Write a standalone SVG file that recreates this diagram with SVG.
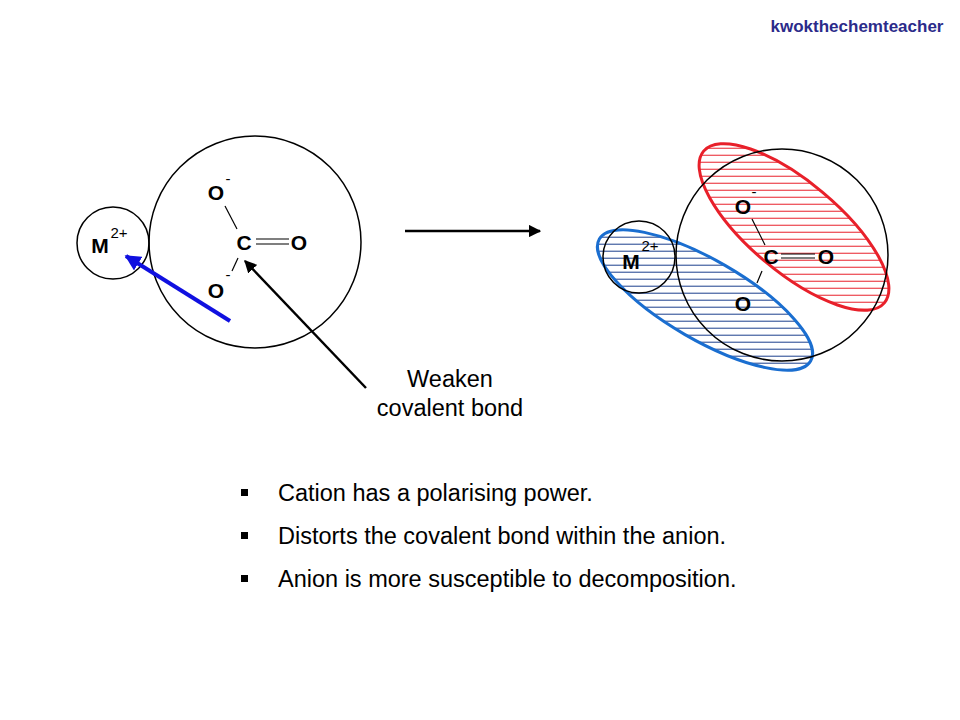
<svg xmlns="http://www.w3.org/2000/svg" width="960" height="720" viewBox="0 0 960 720">
<style>
.at{font-family:"Liberation Sans",Arial,sans-serif;font-weight:bold;font-size:21px;fill:#000;text-anchor:middle}
.sup{font-family:"Liberation Sans",Arial,sans-serif;font-size:15px;fill:#000;text-anchor:middle}
.t{font-family:"Liberation Sans",Arial,sans-serif;font-size:23.5px;fill:#000}
.c{fill:none;stroke:#000;stroke-width:1.5}
.b{stroke:#000;stroke-width:1.2}
</style>
<defs>
<pattern id="hr" width="10" height="7" patternUnits="userSpaceOnUse" patternTransform="rotate(-40)"><line x1="0" y1="3.5" x2="10" y2="3.5" stroke="#e8202a" stroke-width="1"/></pattern>
<pattern id="hb" width="10" height="7" patternUnits="userSpaceOnUse" patternTransform="rotate(-30)"><line x1="0" y1="3.5" x2="10" y2="3.5" stroke="#1a3e8c" stroke-width="1"/></pattern>
<marker id="ak" viewBox="0 0 10 10" refX="9" refY="5" markerWidth="5" markerHeight="5" orient="auto"><path d="M0,0 L10,5 L0,10 z" fill="#000"/></marker>
<marker id="ab" viewBox="0 0 10 10" refX="9" refY="5" markerWidth="4" markerHeight="4" orient="auto"><path d="M0,0 L10,5 L0,10 z" fill="#1010e0"/></marker>
</defs>
<text x="857" y="32" text-anchor="middle" font-family="'Liberation Sans',Arial,sans-serif" font-weight="bold" font-size="17" fill="#2b2b8a">kwokthechemteacher</text>

<g id="left-cation"><circle class="c" cx="113" cy="243" r="36"/><text class="at" x="100" y="253">M</text><text class="sup" x="119" y="238">2+</text></g>
<g id="left-anion">
<circle class="c" cx="255" cy="242" r="106"/>
<text class="at" x="216" y="200">O</text><text class="sup" x="228" y="184">-</text>
<text class="at" x="244" y="250">C</text>
<text class="at" x="299" y="250">O</text>
<text class="at" x="216" y="298">O</text><text class="sup" x="228" y="280">-</text>
<line class="b" x1="225" y1="206" x2="237" y2="229"/>
<line class="b" x1="238" y1="258" x2="232" y2="271"/>
<line class="b" x1="256" y1="239" x2="289" y2="239"/>
<line class="b" x1="256" y1="244" x2="289" y2="244"/>
</g>

<g id="right-complex">
<ellipse cx="794" cy="227" rx="118" ry="45" transform="rotate(40 794 227)" fill="url(#hr)" stroke="#e8202a" stroke-width="3"/>
<ellipse cx="705" cy="300" rx="122" ry="40" transform="rotate(30 705 300)" fill="url(#hb)" stroke="#1a6ed0" stroke-width="3"/>
<circle class="c" cx="782" cy="255" r="106"/>
<circle class="c" cx="639" cy="257" r="36"/>
<text class="at" x="631" y="269">M</text><text class="sup" x="650" y="251">2+</text>
<text class="at" x="743" y="214">O</text><text class="sup" x="754" y="197">-</text>
<text class="at" x="771" y="264">C</text>
<text class="at" x="826" y="264">O</text>
<text class="at" x="743" y="311">O</text>
<line class="b" x1="752" y1="219" x2="765" y2="245"/>
<line class="b" x1="762" y1="271" x2="757" y2="283"/>
<line class="b" x1="781" y1="254" x2="815" y2="254"/>
<line class="b" x1="781" y1="258" x2="815" y2="258"/>
</g>

<g id="connectors">
<line x1="230" y1="321" x2="126" y2="256" stroke="#1010e0" stroke-width="4" marker-end="url(#ab)"/>
<line x1="366" y1="388" x2="245" y2="261" stroke="#000" stroke-width="2.5" marker-end="url(#ak)"/>
<line x1="405" y1="231" x2="540" y2="231" stroke="#000" stroke-width="2.5" marker-end="url(#ak)"/>
</g>

<g id="label"><text class="t" x="450" y="387" text-anchor="middle">Weaken</text><text class="t" x="450" y="416" text-anchor="middle">covalent bond</text></g>

<g id="bullets">
<rect x="241" y="489" width="7" height="7"/><text class="t" x="278" y="501">Cation has a polarising power.</text>
<rect x="241" y="532" width="7" height="7"/><text class="t" x="278" y="544">Distorts the covalent bond within the anion.</text>
<rect x="241" y="575" width="7" height="7"/><text class="t" x="278" y="587">Anion is more susceptible to decomposition.</text>
</g>
</svg>
